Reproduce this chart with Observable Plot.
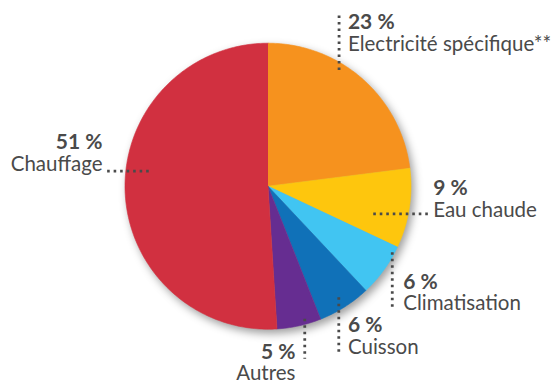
<!DOCTYPE html>
<html>
<head>
<meta charset="utf-8">
<script src="https://cdn.jsdelivr.net/npm/d3@7"></script>
<script src="https://cdn.jsdelivr.net/npm/@observablehq/plot@0.6"></script>
<style>
  html, body { margin: 0; padding: 0; background: #fff; }
  #chart svg { display: block; }
</style>
</head>
<body>
<div id="chart"></div>
<script>
// Energy use by end-use, clockwise from 12 o'clock
const categories = ["Electricité spécifique**", "Eau chaude", "Climatisation", "Cuisson", "Autres", "Chauffage"];
const shares = [23, 9, 6, 6, 5, 51];
const colors = ["#f6921e", "#fec60d", "#41c5f2", "#1071b8", "#662d91", "#d13040"];

// Label placement per category, in pie-radius units around the centre (y up):
// a dotted leader segment and the baseline anchor of the percentage line
const leaderX1 = [0.497, 0.736, 0.869, 0.495, 0.257, -1.125];
const leaderY1 = [1.194, -0.194, -0.462, -0.776, -0.927, 0.105];
const leaderX2 = [0.497, 1.122, 0.869, 0.495, 0.257, -0.834];
const leaderY2 = [0.795, -0.194, -0.857, -1.168, -1.207, 0.105];
const labelX = [0.559, 1.155, 0.946, 0.559, 0.192, -1.157];
const labelY = [1.096, -0.065, -0.718, -1.021, -1.207, 0.260];
const labelAnchor = ["start", "start", "start", "start", "end", "end"];

const W = 559, H = 383;
const cx = 267.5, cy = 185.7, R = 143;

// Slice outlines from d3.pie angles
const arcs = d3.pie().sort(null).startAngle(0).endAngle(2 * Math.PI)(shares);
const slices = [];
arcs.forEach((a, i) => {
  const name = categories[i];
  slices.push({name, x: 0, y: 0});
  const steps = Math.max(2, Math.ceil((a.endAngle - a.startAngle) / (Math.PI / 180)));
  for (let k = 0; k <= steps; ++k) {
    const t = a.startAngle + (a.endAngle - a.startAngle) * k / steps;
    slices.push({name, x: Math.sin(t), y: Math.cos(t)});
  }
});

const labels = categories.map((name, i) => ({
  name, share: shares[i],
  x1: leaderX1[i], y1: leaderY1[i], x2: leaderX2[i], y2: leaderY2[i],
  tx: labelX[i], ty: labelY[i], anchor: labelAnchor[i]
}));

const font = "Lato, 'Open Sans', sans-serif";
const ink = "#4a4a4a";

function labelMarks(anchor) {
  const subset = labels.filter(d => d.anchor === anchor);
  return [
    Plot.text(subset, {
      x: "tx", y: "ty", text: d => `${d.share} %`,
      textAnchor: anchor, lineAnchor: "bottom",
      fontSize: 21, fontWeight: "bold", fill: ink
    }),
    Plot.text(subset, {
      x: "tx", y: "ty", dy: 21.5, text: d => d.name,
      textAnchor: anchor, lineAnchor: "bottom",
      fontSize: 20.5, fill: ink
    })
  ];
}

const chart = Plot.plot({
  width: W,
  height: H,
  margin: 0,
  style: {fontFamily: font, background: "#fff", overflow: "visible"},
  x: {domain: [-cx / R, (W - cx) / R], axis: null},
  y: {domain: [-(H - cy) / R, cy / R], axis: null},
  color: {domain: categories, range: colors},
  marks: [
    Plot.line(slices, {x: "x", y: "y", z: "name", fill: "name", stroke: "name", strokeWidth: 0.6, curve: "linear"}),
    Plot.link(labels, {
      x1: "x1", y1: "y1", x2: "x2", y2: "y2",
      stroke: "#4a4a4a", strokeWidth: 2.8, strokeDasharray: "2.6 3.9"
    }),
    ...labelMarks("start"),
    ...labelMarks("end")
  ]
});

const pie = chart.querySelector('g[aria-label="line"]');
if (pie) pie.style.filter = "drop-shadow(3px 4px 4px rgba(0,0,0,0.38))";

document.getElementById("chart").append(chart);
</script>
</body>
</html>
